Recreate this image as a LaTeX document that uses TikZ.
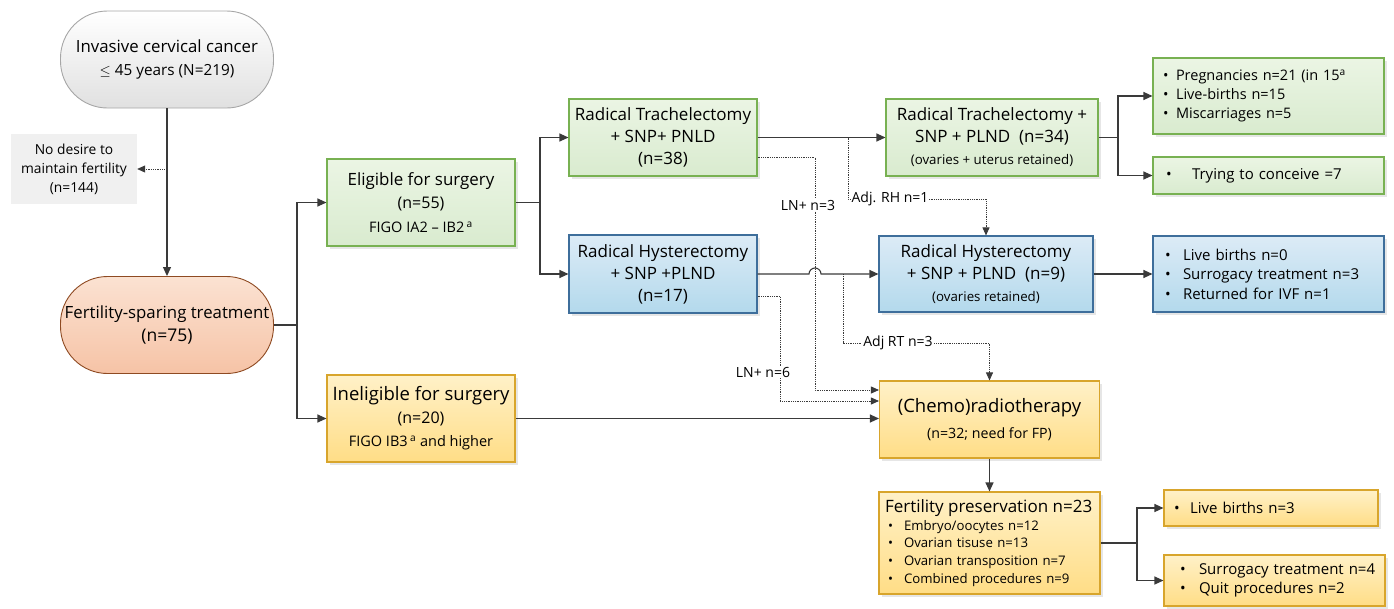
\documentclass[tikz,border=0pt]{standalone}
\usepackage{fontspec}
\setmainfont{Open Sans}
\usetikzlibrary{shapes, arrows.meta, calc, shadows, positioning}
\definecolor{grnA}{HTML}{EBF5E4}
\definecolor{grnB}{HTML}{D9EBCF}
\definecolor{grnline}{HTML}{78B152}
\definecolor{bluA}{HTML}{DCEBF6}
\definecolor{bluB}{HTML}{B3D9EC}
\definecolor{bluline}{HTML}{3E6E9B}
\definecolor{yelA}{HTML}{FFF1C8}
\definecolor{yelB}{HTML}{FFDD86}
\definecolor{yelline}{HTML}{D8A52C}
\definecolor{orgA}{HTML}{FBE2D2}
\definecolor{orgB}{HTML}{F6C3A6}
\definecolor{orgline}{HTML}{8E4A22}
\definecolor{conncol}{HTML}{3A3A3A}
\newcommand{\itm}[2]{\hspace*{#1pt}\makebox[#2pt][l]{\textbullet}}
\newcommand{\fs}[1]{\fontsize{#1}{#1}\selectfont}
\tikzstyle{box}=[draw, rectangle, align=center, line width=1.1pt, inner sep=3pt, drop shadow={shadow xshift=2.5pt, shadow yshift=-2.5pt, opacity=0.2}, font=\fontsize{17}{22}\selectfont]
\tikzstyle{trach}=[box, draw=grnline, top color=grnA, bottom color=grnB]
\tikzstyle{hyst}=[box, draw=bluline, top color=bluA, bottom color=bluB]
\tikzstyle{radio}=[box, draw=yelline, top color=yelA, bottom color=yelB]
\tikzstyle{listbox}=[align=left, inner xsep=6pt, font=\fontsize{15}{19.5}\selectfont]
\tikzstyle{terminal}=[draw, rectangle, rounded corners=47pt, minimum width=213pt, minimum height=97pt, align=center, line width=0.9pt]
\tikzstyle{conn}=[draw=conncol, line width=1.1pt, -{Triangle[length=9pt, width=8pt]}]
\tikzstyle{plain}=[draw=conncol, line width=1.1pt]
\tikzstyle{dotconn}=[draw=conncol, line width=0.8pt, densely dotted, -{Triangle[length=8pt, width=7pt]}]
\tikzstyle{lbl}=[fill=white, inner sep=1pt, font=\fontsize{14}{16}\selectfont]

\begin{document}
\begin{tikzpicture}[x=1pt, y=-1pt]
    \useasboundingbox (0,0) rectangle (1394,608);

    % start and fertility-sparing branch
    \node (icc)[terminal, draw=black!35, top color=white, bottom color=black!12, font=\fontsize{16.8}{23}\selectfont] at (167,59.5) {Invasive cervical cancer\\{\fs{15.3}$\leq$ 45 years (N=219)}};
    \node (nodes)[fill=black!6, minimum width=126pt, minimum height=70pt, align=center, inner sep=1pt, font=\fontsize{13.8}{19}\selectfont] at (74,169) {No desire to\\maintain fertility\\(n=144)};
    \node (fst)[terminal, draw=orgline, top color=orgA, bottom color=orgB, font=\fontsize{16.8}{23}\selectfont] at (167,325) {Fertility-sparing treatment\\{\fs{17.5}(n=75)}};

    \node (elig)[trach, minimum width=188pt, minimum height=87pt, font=\fontsize{16.9}{23.5}\selectfont] at (421,202.5) {Eligible for surgery\\{\fs{16}(n=55)}\\{\fs{14.5}FIGO IA2 -- IB2\,\textsuperscript{a}}};
    \node (inel)[radio, minimum width=188pt, minimum height=87pt, inner xsep=1pt, font=\fontsize{18.5}{23}\selectfont] at (421,418.5) {Ineligible for surgery\\{\fs{16}(n=20)}\\{\fs{14.5}FIGO IB3\,\textsuperscript{a} and higher}};

    \node (rt1)[trach, minimum width=188pt, minimum height=77pt] at (663,137.5) {Radical Trachelectomy\\+ SNP+ PNLD\\(n=38)};
    \node (rh1)[hyst, minimum width=188pt, minimum height=78pt] at (663,274) {Radical Hysterectomy\\+ SNP +PLND\\(n=17)};

    \node (rt2)[trach, minimum width=212pt, minimum height=77pt] at (992,137.5) {Radical Trachelectomy +\\SNP + PLND~~(n=34)\\{\fs{13.3}(ovaries + uterus retained)}};
    \node (rh2)[hyst, minimum width=214pt, minimum height=76pt] at (986,274) {Radical Hysterectomy\\+ SNP + PLND~~(n=9)\\{\fs{13.3}(ovaries retained)}};
    \node (chemo)[radio, minimum width=220pt, minimum height=77pt, font=\fontsize{18.5}{26}\selectfont] at (989.5,419.5) {(Chemo)radiotherapy\\{\fs{14.2}(n=32; need for FP)}};
    \node (fp)[radio, listbox, text width=209pt, minimum height=102pt, font=\fontsize{13.2}{17.7}\selectfont] at (989.5,543) {{\fs{17}Fertility preservation n=23}\\\itm{3}{16}Embryo/oocytes n=12\\\itm{3}{16}Ovarian tisuse n=13\\\itm{3}{16}Ovarian transposition n=7\\\itm{3}{16}Combined procedures n=9};

    % outcome boxes
    \node (preg)[trach, listbox, text width=219pt, minimum height=76pt, font=\fontsize{14.5}{19}\selectfont] at (1268.5,96) {\itm{4}{13}Pregnancies n=21 (in 15\textsuperscript{a}\\\itm{4}{13}Live-births n=15\\\itm{4}{13}Miscarriages n=5};
    \node (tryc)[trach, listbox, text width=219pt, minimum height=37pt] at (1268.5,175.5) {\itm{7}{26}Trying to conceive =7};
    \node (ivf)[hyst, listbox, text width=219pt, minimum height=76pt] at (1268.5,274) {\itm{6}{18}Live births n=0\\\itm{6}{18}Surrogacy treatment n=3\\\itm{6}{18}Returned for IVF n=1};
    \node (lb3)[radio, listbox, text width=202pt, minimum height=36pt] at (1271,508) {\itm{4}{16}Live births n=3};
    \node (surr)[radio, listbox, text width=209pt, minimum height=51pt] at (1274.5,580.5) {\itm{10}{19}Surrogacy treatment n=4\\\itm{10}{19}Quit procedures n=2};

    % solid connectors
    \coordinate (split) at (167,169);
    \coordinate (fork1) at (297,325);
    \coordinate (fork2) at (540,202.5);
    \coordinate (fork3) at (1118,137.5);
    \coordinate (fork4) at (1137,543);
    \coordinate (hopA) at (809,274);

    \draw[conn] (icc.south) -- (fst.north);
    \draw[plain] (fst.east) -- (fork1);
    \draw[conn] (fork1) |- (elig.west);
    \draw[conn] (fork1) |- (inel.west);
    \draw[plain] (elig.east) -- (fork2);
    \draw[conn] (fork2) |- (rt1.west);
    \draw[conn] (fork2) |- (rh1.west);
    \draw[conn] (rt1.east) -- (rt2.west);
    \draw[conn] (rh1.east) -- (hopA) arc (180:0:6pt) -- (rh2.west);
    \draw[plain] (rt2.east) -- (fork3);
    \draw[conn] (fork3) |- (preg.west);
    \draw[conn] (fork3) |- (tryc.west);
    \draw[conn] (rh2.east) -- (ivf.west);
    \draw[conn] (inel.east) -- (inel.east -| chemo.west);
    \draw[conn] (chemo.south) -- (chemo.south |- fp.north);
    \draw[plain] (fp.east) -- (fork4);
    \draw[conn] (fork4) |- (lb3.west);
    \draw[conn] (fork4) |- (surr.west);

    % dotted connectors
    \coordinate (lnA) at (815,390);
    \coordinate (lnB) at (780,401);
    \coordinate (adjA) at (848,137.5);
    \coordinate (adjB) at (848,199);
    \coordinate (adjC) at (843,274);
    \coordinate (adjD) at (843,343);

    \draw[dotconn] (icc.south) -- (split) -- (nodes.east);
    \draw[dotconn] ([yshift=-20pt]rt1.east) -| (lnA) -- (lnA -| chemo.west);
    \draw[dotconn] ([yshift=-22pt]rh1.east) -| (lnB) -- (lnB -| chemo.west);
    \draw[dotconn] (adjA) -- (adjB) -| (rh2.north);
    \draw[dotconn] (adjC) -- (adjD) -| (chemo.north);

    \node[lbl] (ln3) at (808,205) {LN+ n=3};
    \node[lbl] (ln6) at (763,372) {LN+ n=6};
    \node[lbl] (adjrh) at (890,199) {Adj. RH n=1};
    \node[lbl] (adjrt) at (898,343) {Adj RT n=3};

\end{tikzpicture}
\end{document}
